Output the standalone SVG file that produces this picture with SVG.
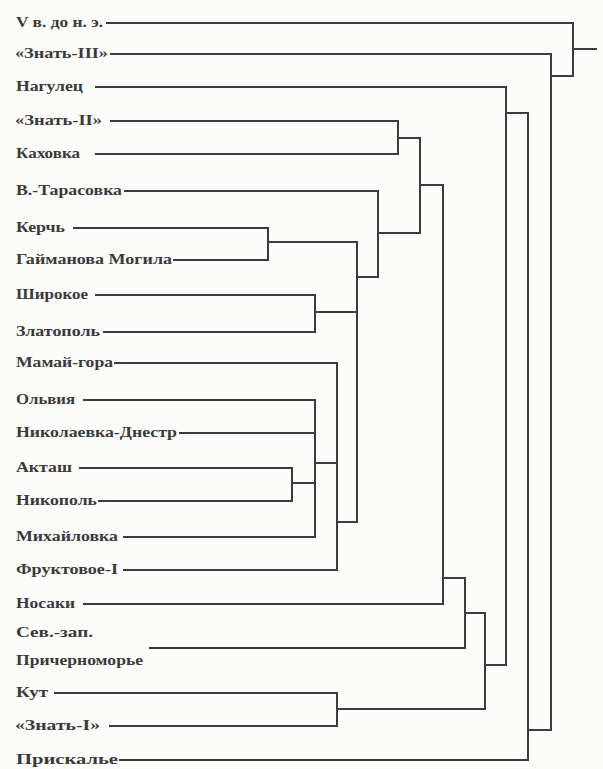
<svg xmlns="http://www.w3.org/2000/svg" width="603" height="769" viewBox="0 0 603 769">
<style>
.lbl{font-family:"Liberation Serif","DejaVu Serif",serif;font-size:14px;font-weight:bold;fill:#3a3a3a}
.ln{fill:none;stroke:#3c3c3c;stroke-width:2;stroke-linecap:square}
</style>
<rect width="603" height="769" fill="#fcfcfa"/>
<g id="labels">
<g id="n-v"><text class="lbl" x="16" y="27" textLength="87" lengthAdjust="spacingAndGlyphs">V в. до н. э.</text></g>
<g id="n-znat3"><text class="lbl" x="15" y="58" textLength="93" lengthAdjust="spacingAndGlyphs">«Знать-III»</text></g>
<g id="n-nagulec"><text class="lbl" x="16" y="91" textLength="67" lengthAdjust="spacingAndGlyphs">Нагулец</text></g>
<g id="n-znat2"><text class="lbl" x="15" y="125" textLength="87" lengthAdjust="spacingAndGlyphs">«Знать-II»</text></g>
<g id="n-kahovka"><text class="lbl" x="16" y="158" textLength="64" lengthAdjust="spacingAndGlyphs">Каховка</text></g>
<g id="n-tarasovka"><text class="lbl" x="16" y="195" textLength="106" lengthAdjust="spacingAndGlyphs">В.-Тарасовка</text></g>
<g id="n-kerch"><text class="lbl" x="16" y="232" textLength="49" lengthAdjust="spacingAndGlyphs">Керчь</text></g>
<g id="n-gaim"><text class="lbl" x="16" y="264" textLength="156" lengthAdjust="spacingAndGlyphs">Гайманова Могила</text></g>
<g id="n-shirokoe"><text class="lbl" x="16" y="299" textLength="72" lengthAdjust="spacingAndGlyphs">Широкое</text></g>
<g id="n-zlatopol"><text class="lbl" x="16" y="336" textLength="84" lengthAdjust="spacingAndGlyphs">Златополь</text></g>
<g id="n-mamai"><text class="lbl" x="16" y="367" textLength="97" lengthAdjust="spacingAndGlyphs">Мамай-гора</text></g>
<g id="n-olvia"><text class="lbl" x="16" y="404" textLength="59" lengthAdjust="spacingAndGlyphs">Ольвия</text></g>
<g id="n-nikolaevka"><text class="lbl" x="16" y="437" textLength="161" lengthAdjust="spacingAndGlyphs">Николаевка-Днестр</text></g>
<g id="n-aktash"><text class="lbl" x="16" y="472" textLength="56" lengthAdjust="spacingAndGlyphs">Акташ</text></g>
<g id="n-nikopol"><text class="lbl" x="16" y="505" textLength="81" lengthAdjust="spacingAndGlyphs">Никополь</text></g>
<g id="n-mihailovka"><text class="lbl" x="16" y="541" textLength="102" lengthAdjust="spacingAndGlyphs">Михайловка</text></g>
<g id="n-fruktovoe"><text class="lbl" x="16" y="574" textLength="102" lengthAdjust="spacingAndGlyphs">Фруктовое-I</text></g>
<g id="n-nosaki"><text class="lbl" x="16" y="608" textLength="59" lengthAdjust="spacingAndGlyphs">Носаки</text></g>
<g id="n-szp"><text class="lbl" x="16" y="637" textLength="77" lengthAdjust="spacingAndGlyphs">Сев.-зап.</text><text class="lbl" x="16" y="665" textLength="127" lengthAdjust="spacingAndGlyphs">Причерноморье</text></g>
<g id="n-kut"><text class="lbl" x="16" y="697" textLength="32" lengthAdjust="spacingAndGlyphs">Кут</text></g>
<g id="n-znat1"><text class="lbl" x="15" y="730" textLength="85" lengthAdjust="spacingAndGlyphs">«Знать-I»</text></g>
<g id="n-priskale"><text class="lbl" x="16" y="764" textLength="102" lengthAdjust="spacingAndGlyphs">Прискалье</text></g>
</g>
<g id="connectors" class="ln">
<path class="ln" d="M107 23H573M111 54H551M96 87H506M111 121H398M96 154H398M125 191H378M74 228H268M174 260H268M96 295H315M104 332H315M115 363H337M84 400H315M180 433H315M80 468H292M99 501H292M124 537H315M124 570H337M84 604H443M150 648H465M55 693H337M110 726H337M120 760H528"/>
<path class="ln" d="M398 121V154M398 138H420M268 228V260M268 242H357M315 295V332M315 312H357M292 468V501M292 483H315M315 400V537M315 463H337M337 363V570M337 522H357M357 242V522M357 277H378M378 191V277M378 233H420M420 138V233M420 185H443M443 185V604M443 578H465M465 578V648M465 613H485M337 693V726M337 709H485M485 613V709M485 665H506M506 87V665M506 113H528M528 113V760M528 730H551M551 54V730M551 76H573M573 23V76M573 49H596"/>
</g>
</svg>
